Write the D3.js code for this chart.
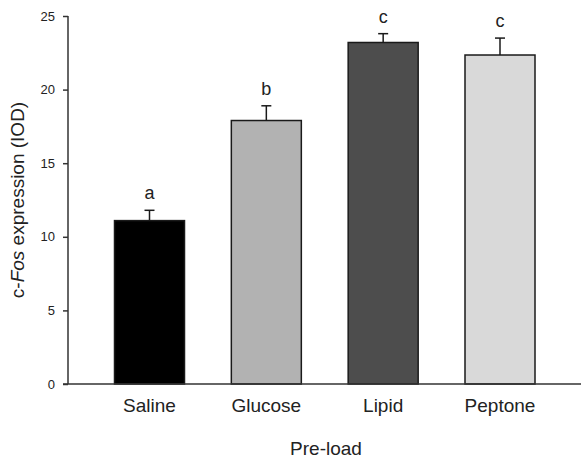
<!DOCTYPE html>
<html><head><meta charset="utf-8">
<script src="https://cdn.jsdelivr.net/npm/d3@7"></script>
<style>body{margin:0;background:#fff}svg{display:block}text{font-family:"Liberation Sans",Arial,sans-serif}</style>
</head><body><svg id="c" width="581" height="459"></svg>
<script>
const categories = ["Saline", "Glucose", "Lipid", "Peptone"];
const means = [11.1, 17.9, 23.2, 22.35];
const errors = [0.7, 1.0, 0.6, 1.15];
const letters = ["a", "b", "c", "c"];
const colors = ["#000000", "#b2b2b2", "#4d4d4d", "#d9d9d9"];
const yTicks = [0, 5, 10, 15, 20, 25];

const svg = d3.select("#c");
const x0 = 68, xEnd = 581, yTop = 16, yBot = 384;
const x = d3.scalePoint().domain(categories).range([149.5, 500]);
const y = d3.scaleLinear().domain([0, 25]).range([yBot, yTop]);
const barW = 70;

// bars
const g = svg.append("g");
categories.forEach((c, i) => {
  g.append("rect")
    .attr("x", x(c) - barW / 2).attr("y", y(means[i]))
    .attr("width", barW).attr("height", y(0) - y(means[i]))
    .attr("fill", colors[i]).attr("stroke", "#1a1a1a").attr("stroke-width", 1.5);
  const top = y(means[i] + errors[i]);
  g.append("line").attr("x1", x(c)).attr("x2", x(c))
    .attr("y1", y(means[i])).attr("y2", top).attr("stroke", "#1a1a1a").attr("stroke-width", 1.5);
  g.append("line").attr("x1", x(c) - 5).attr("x2", x(c) + 5)
    .attr("y1", top).attr("y2", top).attr("stroke", "#1a1a1a").attr("stroke-width", 1.5);
  g.append("text").attr("x", x(c)).attr("y", top - 11)
    .attr("text-anchor", "middle").attr("font-size", 18).attr("fill", "#222")
    .text(letters[i]);
});

// y axis
const yAxis = d3.axisLeft(y).tickValues(yTicks).tickSize(5).tickPadding(8);
const ya = svg.append("g").attr("transform", `translate(${x0},0)`).call(yAxis);
ya.select(".domain").attr("d", `M-0,${yTop}V${yBot}`).attr("stroke", "#333").attr("stroke-width", 1.5);
ya.selectAll(".tick line").attr("stroke", "#333").attr("stroke-width", 1.5);
ya.selectAll(".tick text").attr("font-size", 13).attr("fill", "#222")
  .attr("font-family", "Liberation Sans, Arial, sans-serif");

// x axis line
svg.append("line").attr("x1", x0 - 5).attr("x2", xEnd).attr("y1", yBot).attr("y2", yBot)
  .attr("stroke", "#333").attr("stroke-width", 1.5);

// category labels
categories.forEach(c => {
  svg.append("text").attr("x", x(c)).attr("y", 412).attr("text-anchor", "middle")
    .attr("font-size", 19).attr("fill", "#222").text(c);
});

// axis titles
svg.append("text").attr("x", 326).attr("y", 455).attr("text-anchor", "middle")
  .attr("font-size", 19).attr("fill", "#222").text("Pre-load");

const yt = svg.append("text").attr("transform", `translate(24,${(yTop + yBot) / 2}) rotate(-90)`)
  .attr("text-anchor", "middle").attr("font-size", 19).attr("fill", "#222");
yt.append("tspan").text("c-");
yt.append("tspan").attr("font-style", "italic").text("Fos");
yt.append("tspan").text(" expression (IOD)");
</script></body></html>
